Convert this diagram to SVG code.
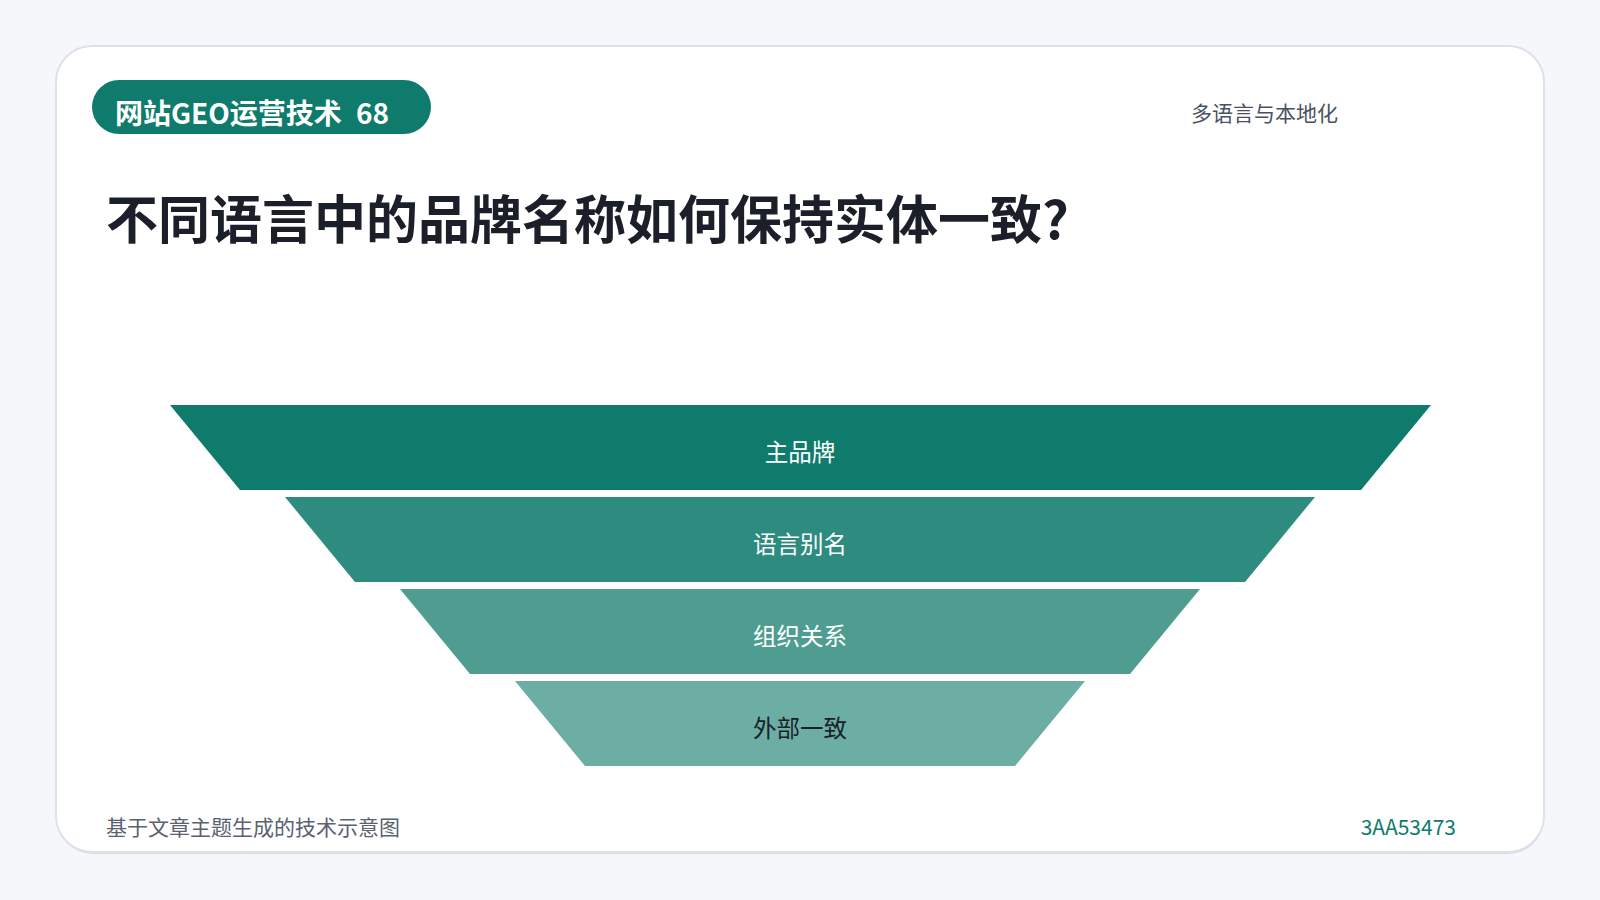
<svg xmlns="http://www.w3.org/2000/svg" width="1600" height="900" viewBox="0 0 1600 900">
<style>
.sans{font-family:"Noto Sans CJK SC","Noto Sans",sans-serif}
.lbl{font-size:23.5px;text-anchor:middle;dominant-baseline:central}
</style>
<rect x="0" y="0" width="1600" height="900" fill="#f5f7fa"/>
<g id="card">
<rect x="57" y="48" width="1487" height="806" rx="36" fill="#d5dbe3"/>
<rect x="56" y="46" width="1488" height="806" rx="36" fill="#ffffff" stroke="#dde2ea" stroke-width="2"/>
</g>
<g id="badge">
<rect x="92" y="80" width="339" height="54" rx="27" fill="#0f7b6c"/>
<text x="115" y="124" class="sans" font-size="28" font-weight="700" fill="#ffffff">网站GEO运营技术<tspan x="356">68</tspan></text>
</g>
<g id="section">
<text x="1191" y="121" class="sans" font-size="21" fill="#4a5160">多语言与本地化</text>
</g>
<g id="title">
<text x="106" y="239" class="sans" font-size="52" font-weight="700" fill="#1b1f29">不同语言中的品牌名称如何保持实体一致?</text>
</g>
<g id="layer1">
<polygon points="170,405 1431,405 1361,490 240,490" fill="#0f7b6c"/>
<text x="800" y="451" class="sans lbl" fill="#ffffff">主品牌</text>
</g>
<g id="layer2">
<polygon points="285,497 1315,497 1245,582 355,582" fill="#2e8b7f"/>
<text x="800" y="543" class="sans lbl" fill="#ffffff">语言别名</text>
</g>
<g id="layer3">
<polygon points="400,589 1200,589 1130,674 470,674" fill="#4e9d90"/>
<text x="800" y="635" class="sans lbl" fill="#ffffff">组织关系</text>
</g>
<g id="layer4">
<polygon points="515,681 1085,681 1015,766 585,766" fill="#6caea4"/>
<text x="800" y="727" class="sans lbl" fill="#1b1f29">外部一致</text>
</g>
<g id="connectors"></g>
<g id="footer">
<text x="106" y="835" class="sans" font-size="21" fill="#5a6170">基于文章主题生成的技术示意图</text>
<text x="1456" y="835" class="sans" font-size="21" fill="#0f7b6c" text-anchor="end">3AA53473</text>
</g>
</svg>
